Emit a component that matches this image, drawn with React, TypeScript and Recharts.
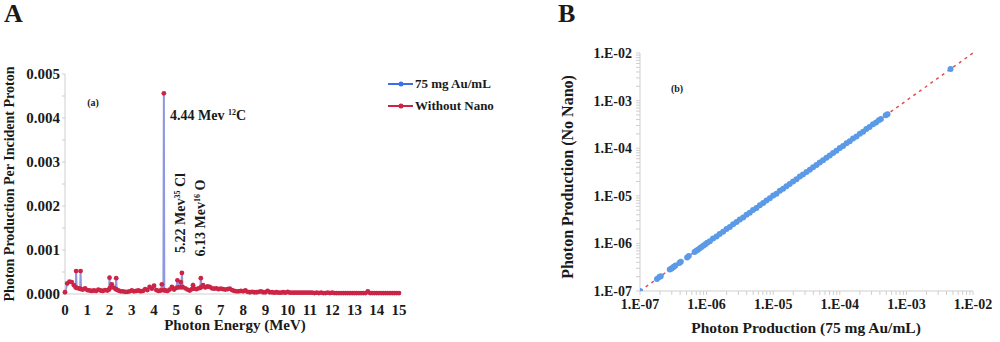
import React from "react";
import {
  ComposedChart, Line, XAxis, YAxis,
  ScatterChart, Scatter, ReferenceLine,
} from "recharts";

// ---- panel A: photon spectrum (values in units of 1e-4 photons / proton) ----
const UNIT = 1e-4;

const energy = [
  0.0, 0.1, 0.2, 0.3, 0.4, 0.48, 0.5, 0.52, 0.6, 0.68,
  0.7, 0.72, 0.8, 0.9, 1.0, 1.1, 1.2, 1.3, 1.4, 1.5,
  1.6, 1.7, 1.8, 1.9, 1.98, 2.0, 2.02, 2.1, 2.2, 2.28,
  2.3, 2.32, 2.4, 2.5, 2.6, 2.7, 2.8, 2.9, 3.0, 3.1,
  3.2, 3.3, 3.4, 3.5, 3.6, 3.7, 3.8, 3.9, 4.0, 4.1,
  4.2, 4.3, 4.35, 4.42, 4.44, 4.46, 4.5, 4.6, 4.7, 4.8,
  4.9, 5.0, 5.05, 5.1, 5.18, 5.2, 5.23, 5.25, 5.28, 5.4,
  5.5, 5.6, 5.7, 5.75, 5.8, 5.9, 6.0, 6.08, 6.1, 6.12,
  6.2, 6.3, 6.4, 6.5, 6.6, 6.7, 6.8, 6.9, 7.0, 7.1,
  7.2, 7.3, 7.4, 7.5, 7.6, 7.7, 7.8, 7.9, 8.0, 8.1,
  8.2, 8.3, 8.4, 8.5, 8.6, 8.7, 8.8, 8.9, 9.0, 9.1,
  9.2, 9.3, 9.4, 9.5, 9.6, 9.7, 9.8, 9.9, 10.0, 10.1,
  10.2, 10.3, 10.4, 10.5, 10.6, 10.7, 10.8, 10.9, 11.0, 11.1,
  11.2, 11.3, 11.4, 11.5, 11.6, 11.7, 11.8, 11.9, 12.0, 12.1,
  12.2, 12.3, 12.4, 12.5, 12.6, 12.7, 12.8, 12.9, 13.0, 13.1,
  13.2, 13.3, 13.4, 13.5, 13.6, 13.7, 13.8, 13.9, 14.0, 14.1,
  14.2, 14.3, 14.4, 14.5, 14.6, 14.7, 14.8, 14.9, 15.0,
];

const withoutNano = [
  0.4, 2.4, 2.8, 2.7, 2.0, 1.5, 5.2, 1.4, 1.3, 1.2,
  5.2, 1.1, 1.0, 1.3, 0.9, 0.8, 0.7, 0.8, 0.7, 1.0,
  0.8, 0.7, 0.9, 0.8, 1.0, 3.7, 1.4, 2.2, 1.4, 1.1,
  3.6, 1.0, 0.8, 0.6, 0.6, 0.5, 0.5, 0.6, 0.8, 0.6,
  0.7, 0.8, 0.6, 0.7, 1.1, 0.9, 1.6, 1.2, 1.9, 0.9,
  0.7, 0.8, 2.2, 0.9, 45.6, 0.9, 0.8, 0.7, 1.0, 1.6,
  1.0, 1.4, 3.1, 1.5, 1.6, 2.7, 1.5, 4.8, 1.6, 1.3,
  1.0, 0.8, 1.1, 2.0, 1.2, 1.1, 1.3, 1.4, 3.6, 1.6,
  2.0, 1.5, 1.7, 1.6, 1.3, 1.2, 1.3, 1.1, 1.2, 1.1,
  1.0, 1.1, 1.2, 0.9, 0.7, 0.6, 0.6, 0.7, 0.6, 0.8,
  0.5, 0.4, 0.5, 0.4, 0.4, 0.5, 0.6, 0.4, 0.4, 0.7,
  0.4, 0.4, 0.3, 0.4, 0.3, 0.3, 0.4, 0.3, 0.5, 0.3,
  0.3, 0.3, 0.3, 0.3, 0.3, 0.3, 0.3, 0.3, 0.3, 0.3,
  0.2, 0.3, 0.2, 0.3, 0.2, 0.2, 0.3, 0.2, 0.3, 0.2,
  0.2, 0.2, 0.2, 0.2, 0.2, 0.2, 0.2, 0.2, 0.2, 0.2,
  0.2, 0.2, 0.2, 0.2, 0.6, 0.2, 0.2, 0.2, 0.2, 0.2,
  0.2, 0.2, 0.2, 0.2, 0.2, 0.2, 0.2, 0.2, 0.2,
];

const withGold = [
  0.4, 2.3, 2.8, 2.6, 2.0, 1.5, 5.1, 1.4, 1.3, 1.2,
  5.1, 1.1, 1.0, 1.3, 0.9, 0.8, 0.7, 0.8, 0.7, 1.0,
  0.8, 0.7, 0.9, 0.8, 1.0, 3.6, 1.5, 2.3, 1.4, 1.1,
  3.5, 1.0, 0.8, 0.6, 0.6, 0.5, 0.5, 0.6, 0.8, 0.6,
  0.7, 0.8, 0.6, 0.7, 1.1, 0.9, 1.6, 1.2, 1.9, 0.9,
  0.7, 0.8, 2.1, 0.9, 45.4, 0.9, 0.8, 0.7, 1.0, 1.6,
  1.0, 1.4, 3.0, 1.5, 1.6, 2.7, 1.5, 4.7, 1.6, 1.3,
  1.0, 0.8, 1.1, 2.0, 1.2, 1.1, 1.3, 1.4, 3.5, 1.6,
  2.0, 1.5, 1.7, 1.6, 1.3, 1.2, 1.3, 1.1, 1.2, 1.1,
  1.0, 1.1, 1.2, 0.9, 0.7, 0.6, 0.6, 0.7, 0.6, 0.8,
  0.5, 0.4, 0.5, 0.4, 0.4, 0.5, 0.6, 0.4, 0.4, 0.7,
  0.4, 0.4, 0.3, 0.4, 0.3, 0.3, 0.4, 0.3, 0.5, 0.3,
  0.3, 0.3, 0.3, 0.3, 0.3, 0.3, 0.3, 0.3, 0.3, 0.3,
  0.2, 0.3, 0.2, 0.3, 0.2, 0.2, 0.3, 0.2, 0.3, 0.2,
  0.2, 0.2, 0.2, 0.2, 0.2, 0.2, 0.2, 0.2, 0.2, 0.2,
  0.2, 0.2, 0.2, 0.2, 0.6, 0.2, 0.2, 0.2, 0.2, 0.2,
  0.2, 0.2, 0.2, 0.2, 0.2, 0.2, 0.2, 0.2, 0.2,
];

const energyTicks = [0, 1, 2, 3, 4, 5, 6, 7, 8, 9, 10, 11, 12, 13, 14, 15];
const yieldTicks = [0, 0.0005, 0.001, 0.0015, 0.002, 0.0025, 0.003, 0.0035, 0.004, 0.0045, 0.005];

// ---- panel B: per-bin yield, gold vs no gold (log-log) ----
const goldYield = [
  1.0e-7, 1.8e-7, 1.95e-7, 2.05e-7, 2.8e-7, 2.95e-7, 3.1e-7, 3.25e-7, 3.4e-7, 3.9e-7,
  4.1e-7, 5.1e-7, 5.4e-7, 6.6e-7, 7.0e-7, 7.4e-7, 7.9e-7, 8.4e-7, 9.0e-7, 9.6e-7,
  1.02e-6, 1.12e-6, 1.25e-6, 1.41e-6, 1.57e-6, 1.77e-6, 1.99e-6, 2.23e-6, 2.5e-6, 2.82e-6,
  3.15e-6, 3.54e-6, 3.97e-6, 4.45e-6, 4.98e-6, 5.6e-6, 6.3e-6, 7.08e-6, 7.92e-6, 8.9e-6,
  1.0e-5, 1.12e-5, 1.26e-5, 1.41e-5, 1.58e-5, 1.77e-5, 1.99e-5, 2.24e-5, 2.51e-5, 2.8e-5,
  3.16e-5, 3.55e-5, 3.97e-5, 4.46e-5, 5.0e-5, 5.61e-5, 6.3e-5, 7.07e-5, 7.93e-5, 8.9e-5,
  1.0e-4, 1.12e-4, 1.26e-4, 1.41e-4, 1.58e-4, 1.78e-4, 2.0e-4, 2.24e-4, 2.5e-4, 2.8e-4,
  3.15e-4, 3.5e-4, 3.85e-4, 4.15e-4, 4.9e-4, 5.2e-4, 4.6e-3,
];

const noGoldYield = [
  1.0e-7, 1.79e-7, 1.97e-7, 2.03e-7, 2.82e-7, 2.93e-7, 3.12e-7, 3.22e-7, 3.43e-7, 3.88e-7,
  4.13e-7, 5.08e-7, 5.43e-7, 6.58e-7, 7.04e-7, 7.38e-7, 7.93e-7, 8.37e-7, 9.04e-7, 9.57e-7,
  1.03e-6, 1.11e-6, 1.26e-6, 1.4e-6, 1.58e-6, 1.76e-6, 2.0e-6, 2.22e-6, 2.52e-6, 2.8e-6,
  3.17e-6, 3.52e-6, 3.99e-6, 4.43e-6, 5.01e-6, 5.57e-6, 6.33e-6, 7.05e-6, 7.96e-6, 8.87e-6,
  1.01e-5, 1.11e-5, 1.27e-5, 1.4e-5, 1.59e-5, 1.76e-5, 2.0e-5, 2.22e-5, 2.53e-5, 2.79e-5,
  3.18e-5, 3.53e-5, 3.99e-5, 4.44e-5, 5.03e-5, 5.58e-5, 6.33e-5, 7.04e-5, 7.97e-5, 8.86e-5,
  1.01e-4, 1.11e-4, 1.27e-4, 1.4e-4, 1.59e-4, 1.77e-4, 2.01e-4, 2.22e-4, 2.52e-4, 2.79e-4,
  3.17e-4, 3.48e-4, 3.87e-4, 4.12e-4, 4.93e-4, 5.17e-4, 4.62e-3,
];

const decadeTicks = [1e-7, 1e-6, 1e-5, 1e-4, 1e-3, 1e-2];
const identityEnds = [1e-7, 1e-2];

const FONT = '"Liberation Serif", "DejaVu Serif", serif';
const BLUE_LINE = "#8f97e2";
const RED = "#cc2446";
const AXIS_GREY = "#cfcfcf";

const spectrumRows = energy.map((e, i) => ({
  energy: e,
  gold: withGold[i] * UNIT,
  plain: withoutNano[i] * UNIT,
}));

const scatterRows = goldYield.map((x, i) => ({ x, y: noGoldYield[i] }));

const yieldLabel = (v: number) => {
  const k = v * 1000;
  return Math.abs(k - Math.round(k)) < 1e-6 ? v.toFixed(3) : "";
};

const decadeLabel = (v: number) => {
  const p = Math.log10(v);
  if (Math.abs(p - Math.round(p)) > 1e-6) return "";
  return "1.E-" + String(-Math.round(p)).padStart(2, "0");
};

const minorTicks: number[] = [];
decadeTicks.forEach((d, i) => {
  minorTicks.push(d);
  if (i < decadeTicks.length - 1) [2, 3, 4, 5, 6, 7, 8, 9].forEach((m) => minorTicks.push(d * m));
});

const tickStyle = { fill: "#1a1a1a", fontSize: 14, fontWeight: 700, fontFamily: FONT };
const tickStyleA = { ...tickStyle, fontSize: 15 };

function Txt({ x, y, children, size = 14, rotate = false, align = "center" }: any) {
  const tx = align === "center" ? "-50%" : "0";
  return (
    <div
      style={{
        position: "absolute", left: x, top: y, whiteSpace: "nowrap", lineHeight: 1,
        fontSize: size, fontWeight: 700, fontFamily: FONT, color: "#1a1a1a",
        transform: `translate(${tx}, -50%)${rotate ? " rotate(-90deg)" : ""}`,
      }}
    >
      {children}
    </div>
  );
}

function LegendRow({ y, color, label }: { y: number; color: string; label: string }) {
  return (
    <div style={{ position: "absolute", left: 388, top: y - 6, display: "flex", alignItems: "center", height: 12 }}>
      <svg width={26} height={12}>
        <line x1={0} y1={6} x2={25} y2={6} stroke={color} strokeWidth={2} />
        <circle cx={13} cy={6} r={2.5} fill={color} />
      </svg>
      <span style={{ fontFamily: FONT, fontSize: 13, fontWeight: 700, color: "#1a1a1a", marginLeft: 1 }}>{label}</span>
    </div>
  );
}

export default function App() {
  const sup = { fontSize: 8, verticalAlign: "super" as const };
  return (
    <div style={{ position: "absolute", left: 0, top: 0, width: 1000, height: 342, background: "#fff", overflow: "hidden" }}>
      <div style={{ position: "absolute", left: 0, top: 0 }}>
        <ComposedChart width={420} height={342} data={spectrumRows} margin={{ top: 74, right: 21, bottom: 18, left: 0 }}>
          <XAxis
            type="number" dataKey="energy" domain={[0, 15]} ticks={energyTicks} interval={0}
            tickLine={false} axisLine={{ stroke: AXIS_GREY }} tick={tickStyleA} height={30} tickMargin={4}
          />
          <YAxis
            type="number" domain={[0, 0.005]} ticks={yieldTicks} interval={0} tickFormatter={yieldLabel}
            width={65} tick={tickStyleA} axisLine={{ stroke: AXIS_GREY }} tickLine={{ stroke: AXIS_GREY }}
            tickSize={3} tickMargin={2}
          />
          <Line type="linear" dataKey="gold" stroke={BLUE_LINE} strokeWidth={2} dot={false} isAnimationActive={false} />
          <Line
            type="linear" dataKey="plain" stroke="none" strokeWidth={0}
            dot={{ r: 2.4, fill: RED, stroke: "none" }} activeDot={false} isAnimationActive={false}
          />
        </ComposedChart>
      </div>

      <div style={{ position: "absolute", left: 540, top: 0 }}>
        <ScatterChart width={460} height={342} margin={{ top: 53, right: 27, bottom: 21, left: 0 }}>
          <XAxis
            type="number" dataKey="x" scale="log" domain={[1e-7, 1e-2]} allowDataOverflow ticks={minorTicks}
            interval={0} tickFormatter={decadeLabel} tick={tickStyle} height={30}
            axisLine={{ stroke: AXIS_GREY }} tickLine={{ stroke: AXIS_GREY }} tickSize={4} tickMargin={4}
          />
          <YAxis
            type="number" dataKey="y" scale="log" domain={[1e-7, 1e-2]} allowDataOverflow ticks={minorTicks}
            interval={0} tickFormatter={decadeLabel} tick={tickStyle} width={100}
            axisLine={{ stroke: AXIS_GREY }} tickLine={{ stroke: AXIS_GREY }} tickSize={4} tickMargin={4}
          />
          <ReferenceLine
            segment={[{ x: identityEnds[0], y: identityEnds[0] }, { x: identityEnds[1], y: identityEnds[1] }]}
            stroke="#e0504f" strokeWidth={1.5} strokeDasharray="3 4"
          />
          <Scatter
            data={scatterRows} isAnimationActive={false}
            shape={(p: any) => <circle cx={p.cx} cy={p.cy} r={3} fill="#5b9ae6" />}
          />
        </ScatterChart>
      </div>

      <Txt x={4} y={14} size={26} align="left">A</Txt>
      <Txt x={558} y={14} size={26} align="left">B</Txt>

      <Txt x={10} y={184} size={14} rotate>Photon Production Per Incident Proton</Txt>
      <Txt x={235} y={325} size={15}>Photon Energy (MeV)</Txt>
      <Txt x={93} y={103} size={10}>(a)</Txt>
      <Txt x={170} y={116} size={14} align="left">
        4.44 Mev <span style={sup}>12</span>C
      </Txt>
      <Txt x={181} y={213} size={14} rotate>
        5.22 Mev<span style={sup}>35</span> Cl
      </Txt>
      <Txt x={201} y={218} size={14} rotate>
        6.13 Mev<span style={sup}>16</span> O
      </Txt>
      <LegendRow y={84} color="#3d6fe6" label="75 mg Au/mL" />
      <LegendRow y={106} color={RED} label="Without Nano" />

      <Txt x={568} y={177} size={16} rotate>Photon Production (No Nano)</Txt>
      <Txt x={806} y={328} size={15.5}>Photon Production (75 mg Au/mL)</Txt>
      <Txt x={677} y={89} size={10}>(b)</Txt>
    </div>
  );
}
